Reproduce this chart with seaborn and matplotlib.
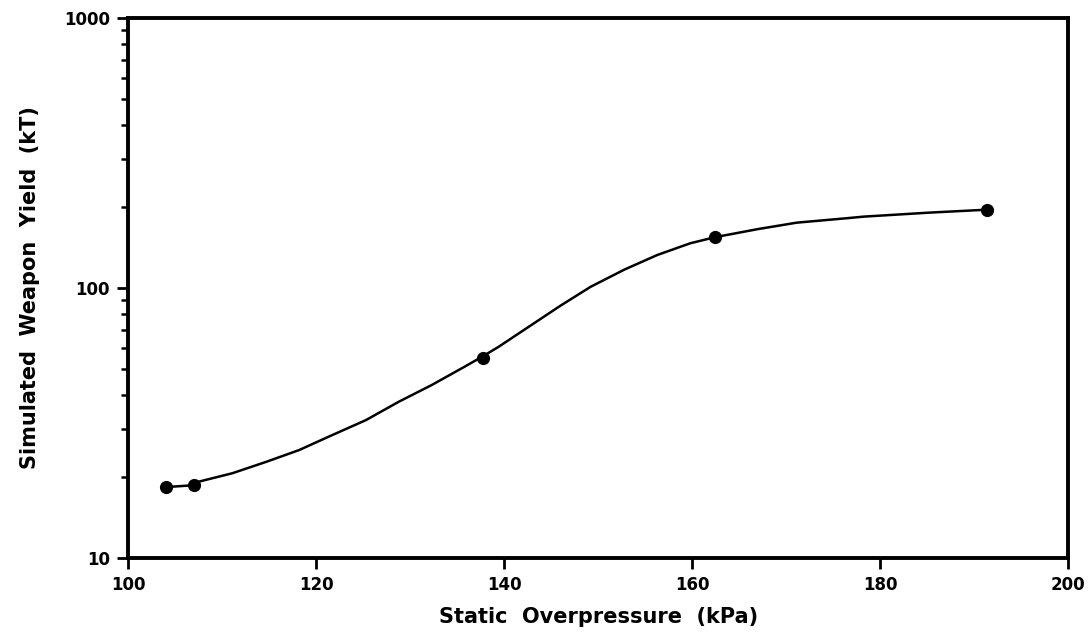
import numpy as np
import pandas as pd
import matplotlib
matplotlib.use('Agg')
import matplotlib.pyplot as plt
from matplotlib.ticker import FixedLocator, FixedFormatter, LogLocator, NullFormatter
import seaborn as sns

# measured points
pressure_kpa = [104, 107, 137.8, 162.4, 191.4]
yield_kt = [18.3, 18.6, 55.2, 154.1, 195.0]

# hand-drawn fit curve
curve_kpa = [104, 107, 107.6, 111.1, 114.7, 118.2, 121.7, 125.3, 128.8, 132.3, 135.8,
             137.8, 139.4, 142.9, 146.0, 149.2, 152.8, 156.3, 159.8, 162.4, 166.9,
             171.1, 176.4, 178.2, 185.2, 191.4]
curve_kt = [18.3, 18.6, 19.2, 20.6, 22.7, 25.1, 28.5, 32.4, 37.9, 43.7, 51.1,
            56.0, 60.5, 72.9, 86.0, 101.0, 117.0, 132.5, 146.4, 154.1, 165.0,
            174.5, 181.2, 183.7, 190.1, 195.0]

x_ticks = [100, 120, 140, 160, 180, 200]
y_ticks = [10, 100, 1000]
y_tick_labels = ['10', '100', '1000']

sns.set_style('ticks')
plt.rcParams['font.family'] = ['DejaVu Sans']
plt.rcParams['text.color'] = 'black'
plt.rcParams['axes.labelcolor'] = 'black'
plt.rcParams['xtick.color'] = 'black'
plt.rcParams['ytick.color'] = 'black'

fig = plt.figure(figsize=(10.89, 6.41), dpi=100)
ax = fig.add_axes([0.1175, 0.1295, 0.8635, 0.8425])

pts = pd.DataFrame({'p': pressure_kpa, 'y': yield_kt})
crv = pd.DataFrame({'p': curve_kpa, 'y': curve_kt})

sns.lineplot(data=crv, x='p', y='y', color='black', linewidth=1.8, sort=False,
             estimator=None, ax=ax)
sns.scatterplot(data=pts, x='p', y='y', color='black', s=90, edgecolor='black',
                linewidth=0, zorder=5, ax=ax)

ax.set_yscale('log')
ax.set_xlim(100, 200)
ax.set_ylim(10, 1000)

ax.xaxis.set_major_locator(FixedLocator(x_ticks))
ax.yaxis.set_major_locator(FixedLocator(y_ticks))
ax.yaxis.set_major_formatter(FixedFormatter(y_tick_labels))
ax.yaxis.set_minor_locator(LogLocator(base=10, subs=np.arange(2, 10)))
ax.yaxis.set_minor_formatter(NullFormatter())

for s in ax.spines.values():
    s.set_linewidth(2.8)
    s.set_color('black')

ax.tick_params(axis='both', which='major', direction='out', length=8, width=2,
               labelsize=12, pad=5, colors='black')
ax.tick_params(axis='y', which='minor', direction='out', length=5, width=1.8)
for lbl in ax.get_xticklabels() + ax.get_yticklabels():
    lbl.set_fontweight('bold')

ax.set_xlabel('Static  Overpressure  (kPa)', fontsize=15, fontweight='bold', labelpad=9)
ax.set_ylabel('Simulated  Weapon  Yield  (kT)', fontsize=15, fontweight='bold', labelpad=17)

fig.savefig('out.png', dpi=100)
